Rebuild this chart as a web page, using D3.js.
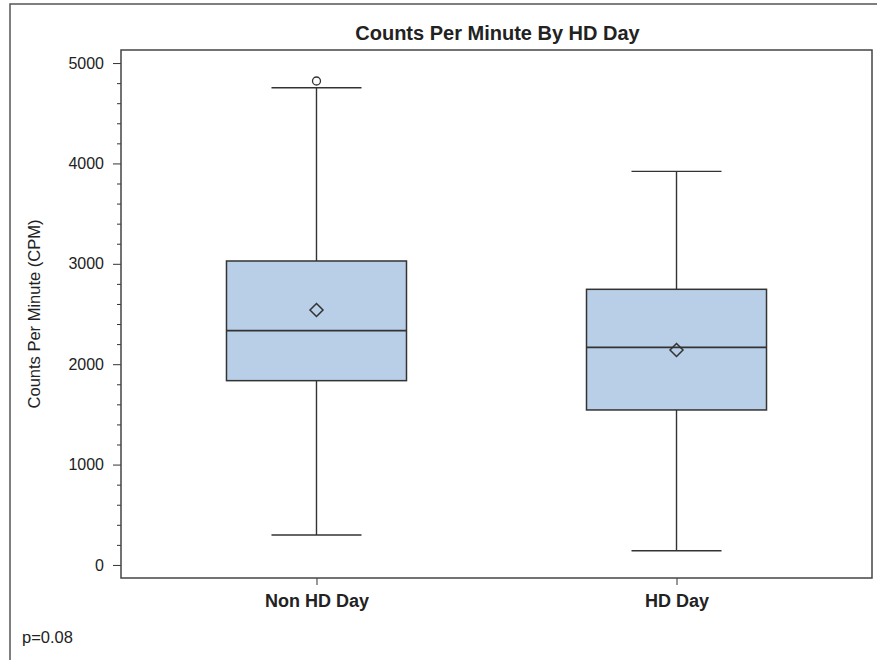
<!DOCTYPE html>
<html>
<head>
<meta charset="utf-8">
<script src="https://cdn.jsdelivr.net/npm/d3@7"></script>
<style>
  html, body { margin: 0; padding: 0; background: #fff; }
  svg { display: block; }
  text { font-family: "Liberation Sans", Arial, sans-serif; fill: #222; }
</style>
</head>
<body>
<svg id="chart" width="877" height="660"></svg>
<script>
// Box plot summary statistics per group
const categories = ["Non HD Day", "HD Day"];
const whiskerLow = [299, 142];
const q1 = [1836, 1544];
const median = [2334, 2168];
const q3 = [3028, 2746];
const whiskerHigh = [4754, 3921];
const means = [2540, 2141];
const outliers = [[4821], []];
const yTicks = [0, 1000, 2000, 3000, 4000, 5000];
const yMinorTicks = d3.range(0, 5001, 200).filter(v => v % 1000 !== 0);

const svg = d3.select("#chart");
const W = 877, H = 660;
const plot = { left: 121, right: 872, top: 50, bottom: 578 };
const ink = "#333";

// Outer frame (extends past the right and bottom edges)
svg.append("rect")
  .attr("x", 10).attr("y", 4)
  .attr("width", W + 10).attr("height", H + 10)
  .attr("fill", "none").attr("stroke", "#555").attr("stroke-width", 1.5);

const x = d3.scalePoint().domain(categories).range([plot.left, plot.right]).padding(0.543);
const step = x.step();
const y = d3.scaleLinear().domain([-130, 5130]).range([plot.bottom, plot.top]);

// Title
svg.append("text")
  .attr("x", (plot.left + plot.right) / 2 + 1).attr("y", 40)
  .attr("text-anchor", "middle")
  .attr("font-size", 20).attr("font-weight", "bold")
  .text("Counts Per Minute By HD Day");

// Y axis: major ticks with labels
const yAxis = svg.append("g")
  .attr("transform", `translate(${plot.left},0)`)
  .call(d3.axisLeft(y).tickValues(yTicks).tickSize(8).tickPadding(9).tickFormat(d3.format("d")));
yAxis.select(".domain").remove();
yAxis.selectAll("line").attr("stroke", ink);
yAxis.selectAll("text").attr("font-size", 16).attr("font-family", null).style("fill", "#222");

// Y axis: minor ticks
svg.append("g")
  .attr("transform", `translate(${plot.left},0)`)
  .call(d3.axisLeft(y).tickValues(yMinorTicks).tickSize(4).tickFormat(""))
  .call(g => g.select(".domain").remove())
  .selectAll("line").attr("stroke", ink);

// X axis ticks and labels
const xAxis = svg.append("g")
  .attr("transform", `translate(0,${plot.bottom})`)
  .call(d3.axisBottom(x).tickSize(7).tickPadding(9));
xAxis.select(".domain").remove();
xAxis.selectAll("line").attr("stroke", ink);
xAxis.selectAll("text").attr("font-size", 18).attr("font-weight", "bold").attr("font-family", null).style("fill", "#222");

// Y axis title
svg.append("text")
  .attr("transform", `translate(40,${(plot.top + plot.bottom) / 2}) rotate(-90)`)
  .attr("text-anchor", "middle")
  .attr("font-size", 16.5)
  .text("Counts Per Minute (CPM)");

// Boxes
const boxW = step * 0.5;
const capW = step * 0.25;
const groups = svg.append("g").selectAll("g").data(categories).join("g");

groups.append("line") // whisker stem
  .attr("x1", d => x(d)).attr("x2", d => x(d))
  .attr("y1", (d, i) => y(whiskerLow[i])).attr("y2", (d, i) => y(whiskerHigh[i]))
  .attr("stroke", ink).attr("stroke-width", 1.4);

groups.selectAll("line.cap")
  .data((d, i) => [whiskerLow[i], whiskerHigh[i]].map(v => ({ c: d, v })))
  .join("line").attr("class", "cap")
  .attr("x1", d => x(d.c) - capW / 2).attr("x2", d => x(d.c) + capW / 2)
  .attr("y1", d => y(d.v)).attr("y2", d => y(d.v))
  .attr("stroke", ink).attr("stroke-width", 1.4);

groups.append("rect")
  .attr("x", d => x(d) - boxW / 2).attr("width", boxW)
  .attr("y", (d, i) => y(q3[i])).attr("height", (d, i) => y(q1[i]) - y(q3[i]))
  .attr("fill", "#b9cfe7").attr("stroke", ink).attr("stroke-width", 1.5);

groups.append("line") // median
  .attr("x1", d => x(d) - boxW / 2).attr("x2", d => x(d) + boxW / 2)
  .attr("y1", (d, i) => y(median[i])).attr("y2", (d, i) => y(median[i]))
  .attr("stroke", ink).attr("stroke-width", 1.8);

groups.append("path") // mean marker
  .attr("transform", (d, i) => `translate(${x(d)},${y(means[i])})`)
  .attr("d", "M0,-6.5L6.5,0L0,6.5L-6.5,0Z")
  .attr("fill", "none").attr("stroke", ink).attr("stroke-width", 1.5);

groups.selectAll("circle")
  .data((d, i) => outliers[i].map(v => ({ c: d, v })))
  .join("circle")
  .attr("cx", d => x(d.c)).attr("cy", d => y(d.v)).attr("r", 4)
  .attr("fill", "#fff").attr("stroke", ink).attr("stroke-width", 1.3);

// Plot frame
svg.append("rect")
  .attr("x", plot.left).attr("y", plot.top)
  .attr("width", plot.right - plot.left).attr("height", plot.bottom - plot.top)
  .attr("fill", "none").attr("stroke", "#444").attr("stroke-width", 1.5);

// Test statistic note
svg.append("text")
  .attr("x", 22).attr("y", 643)
  .attr("font-size", 16.5)
  .text("p=0.08");
</script>
</body>
</html>
